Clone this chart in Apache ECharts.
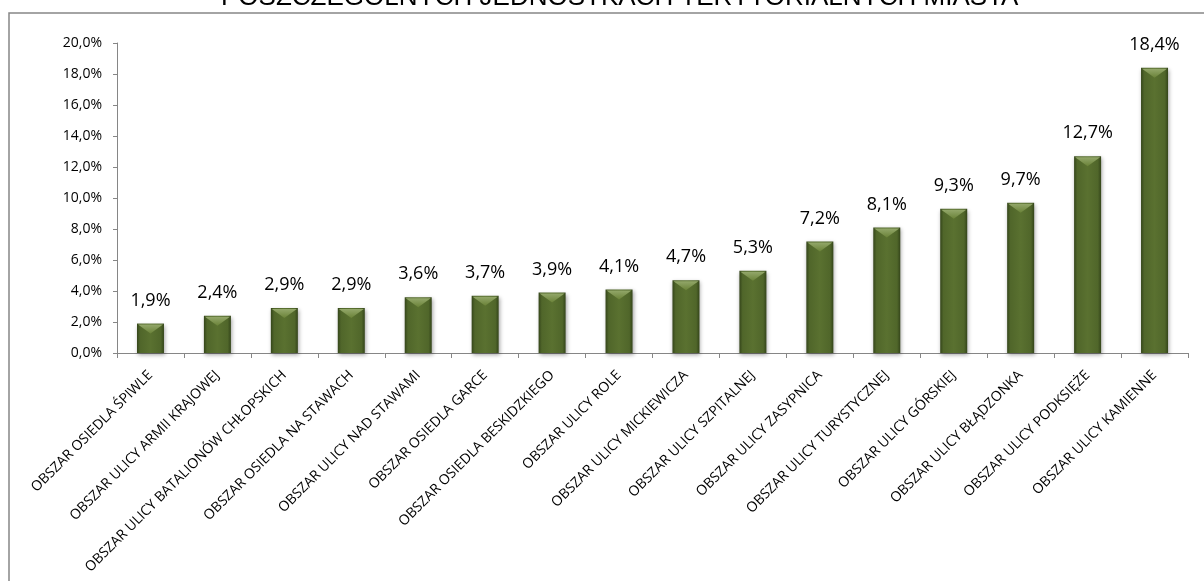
<!DOCTYPE html>
<html>
<head>
<meta charset="utf-8">
<script src="https://cdn.jsdelivr.net/npm/echarts@6/dist/echarts.min.js"></script>
<style>
  html, body { margin: 0; padding: 0; background: #fff; }
  #chart { width: 1204px; height: 581px; }
</style>
</head>
<body>
<div id="chart"></div>
<script>
// kategorie (jednostki terytorialne)
var areas = [
    'OBSZAR OSIEDLA ŚPIWLE',
    'OBSZAR ULICY ARMII KRAJOWEJ',
    'OBSZAR ULICY BATALIONÓW CHŁOPSKICH',
    'OBSZAR OSIEDLA NA STAWACH',
    'OBSZAR ULICY NAD STAWAMI',
    'OBSZAR OSIEDLA GARCE',
    'OBSZAR OSIEDLA BESKIDZKIEGO',
    'OBSZAR ULICY ROLE',
    'OBSZAR ULICY MICKIEWICZA',
    'OBSZAR ULICY SZPITALNEJ',
    'OBSZAR ULICY ZASYPNICA',
    'OBSZAR ULICY TURYSTYCZNEJ',
    'OBSZAR ULICY GÓRSKIEJ',
    'OBSZAR ULICY BŁĄDZONKA',
    'OBSZAR ULICY PODKSIĘŻE',
    'OBSZAR ULICY KAMIENNE'
];
// udział procentowy
var shares = [1.9, 2.4, 2.9, 2.9, 3.6, 3.7, 3.9, 4.1, 4.7, 5.3, 7.2, 8.1, 9.3, 9.7, 12.7, 18.4];

var titleText = 'POSZCZEGÓLNYCH JEDNOSTKACH TERYTORIALNYCH MIASTA';

function pct(v) {
    return v.toFixed(1).replace('.', ',') + '%';
}

var myChart = echarts.init(document.getElementById('chart'));

var option = {
    animation: false,
    title: {
        text: titleText,
        left: 216,
        top: -20,
        textStyle: {
            fontFamily: 'Liberation Sans',
            fontWeight: 'normal',
            fontSize: 26,
            color: '#000'
        }
    },
    graphic: [{
        type: 'rect',
        shape: { x: 9, y: 13, width: 1220, height: 620 },
        style: { fill: 'none', stroke: '#868686', lineWidth: 1.5 },
        silent: true
    }],
    grid: {
        left: 117,
        right: 16,
        top: 43,
        bottom: 228
    },
    xAxis: {
        type: 'category',
        data: areas,
        axisLine: { lineStyle: { color: '#868686', width: 1 } },
        axisTick: { show: true, length: 5, lineStyle: { color: '#868686' } },
        axisLabel: {
            interval: 0,
            rotate: 45,
            margin: 20,
            fontFamily: 'Open Sans',
            fontSize: 14,
            color: '#000'
        }
    },
    yAxis: {
        type: 'value',
        min: 0,
        max: 20,
        interval: 2,
        splitLine: { show: false },
        axisLine: { show: true, lineStyle: { color: '#868686', width: 1 } },
        axisTick: { show: true, length: 4, lineStyle: { color: '#868686' } },
        axisLabel: {
            formatter: pct,
            margin: 15,
            fontFamily: 'Open Sans',
            fontSize: 14,
            color: '#000'
        }
    },
    series: [{
        type: 'bar',
        data: shares,
        barWidth: 27,
        itemStyle: {
            color: new echarts.graphic.LinearGradient(0, 0, 1, 0, [
                { offset: 0, color: '#34451a' },
                { offset: 0.12, color: '#50662a' },
                { offset: 0.5, color: '#5a7130' },
                { offset: 0.88, color: '#50662a' },
                { offset: 1, color: '#34451a' }
            ]),
            shadowColor: 'rgba(0,0,0,0.35)',
            shadowBlur: 4,
            shadowOffsetX: 1,
            shadowOffsetY: 2
        },
        label: {
            show: true,
            position: 'top',
            distance: 14,
            formatter: function (p) { return pct(p.value); },
            fontFamily: 'Open Sans',
            fontSize: 18,
            color: '#000'
        }
    }, {
        // jasna faza na górze słupka
        type: 'pictorialBar',
        data: shares,
        barGap: '-100%',
        symbol: 'path://M0,0 L10,0 L5,3.4 Z',
        symbolSize: [25, 9],
        symbolPosition: 'end',
        symbolOffset: [0, 1],
        itemStyle: {
            color: new echarts.graphic.LinearGradient(0, 0, 0, 1, [
                { offset: 0, color: '#93a76a' },
                { offset: 1, color: '#6a8238' }
            ])
        },
        silent: true,
        z: 3
    }]
};

myChart.setOption(option);
</script>
</body>
</html>
